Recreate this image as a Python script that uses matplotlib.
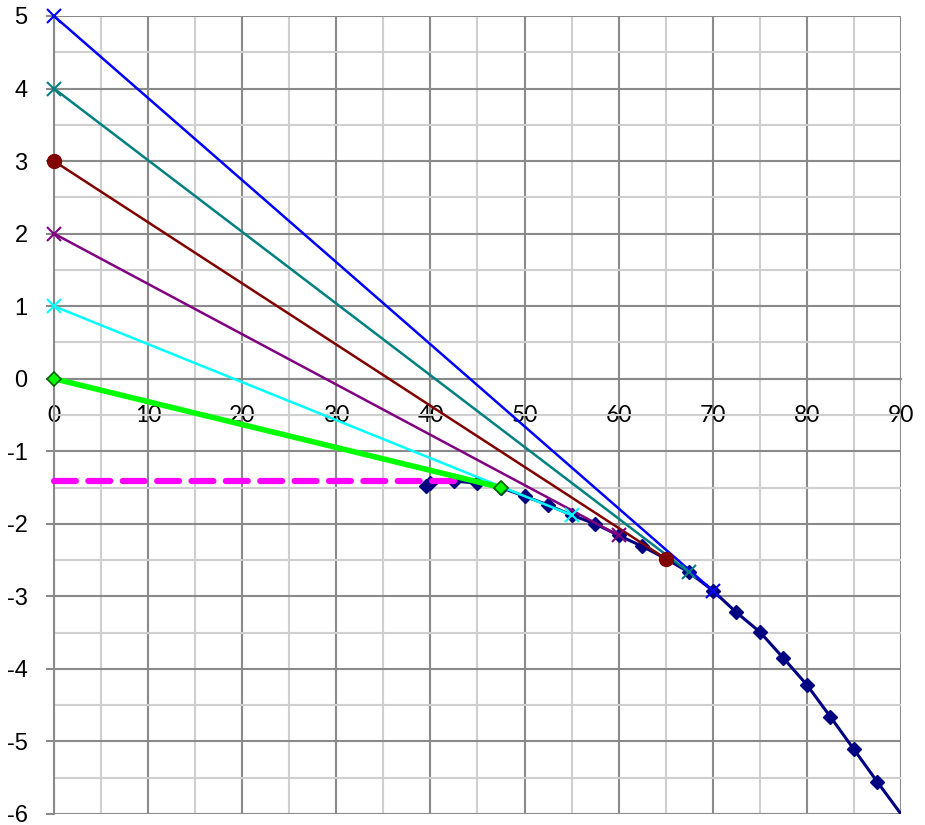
import matplotlib
matplotlib.use("Agg")
import matplotlib.pyplot as plt
from matplotlib.ticker import MultipleLocator

# curve points (navy, diamonds)
curve_x = [39.5, 40, 42.5, 45, 47.5, 50, 52.5, 55, 57.5, 60, 62.5, 65, 67.5,
           70, 72.5, 75, 77.5, 80, 82.5, 85, 87.5, 90]
curve_y = [-1.48, -1.44, -1.41, -1.44, -1.50, -1.62, -1.74, -1.88, -2.00, -2.16, -2.31, -2.48, -2.67,
           -2.92, -3.22, -3.49, -3.85, -4.22, -4.66, -5.11, -5.56, -6.00]

# straight lines from the y axis to the curve
line_start = [5, 4, 3, 2, 1, 0]
line_end_x = [70, 67.5, 65, 60, 55, 47.5]
line_end_y = [-2.92, -2.67, -2.48, -2.16, -1.88, -1.50]
line_colors = ["#0000FF", "#008080", "#800000", "#800080", "#00FFFF", "#00FF00"]
line_markers = ["x", "x", "o", "x", "x", "D"]

# magenta dashed level
level_x = [0, 42.5]
level_y = [-1.41, -1.41]

x_ticks = list(range(0, 91, 10))
y_ticks = list(range(-6, 6))

fig = plt.figure(figsize=(9.25, 8.25), dpi=100)
ax = fig.add_axes([54 / 925, 1 - 814 / 825, (901 - 54) / 925, (814 - 16) / 825])

ax.set_xlim(0, 90)
ax.set_ylim(-6, 5)
ax.xaxis.set_major_locator(MultipleLocator(10))
ax.xaxis.set_minor_locator(MultipleLocator(5))
ax.yaxis.set_major_locator(MultipleLocator(1))
ax.yaxis.set_minor_locator(MultipleLocator(0.5))
ax.grid(which="minor", color="#cfcfcf", linewidth=1.5, zorder=0)
ax.grid(which="major", color="#8a8a8a", linewidth=1.5, zorder=0)
ax.set_axisbelow(True)

for s in ["top", "right"]:
    ax.spines[s].set_visible(False)
ax.spines["left"].set_color("#8a8a8a")
ax.spines["left"].set_linewidth(1.5)
ax.spines["bottom"].set_position(("data", 0))
ax.spines["bottom"].set_color("#8a8a8a")
ax.spines["bottom"].set_linewidth(1.5)

ax.set_xticks(x_ticks)
ax.set_yticks(y_ticks)
ax.set_xticklabels([str(v) for v in x_ticks])
ax.set_yticklabels([str(v) for v in y_ticks])
ax.tick_params(axis="y", which="major", length=6, width=1.5, color="#8a8a8a", pad=13, labelsize=17)
ax.tick_params(axis="x", which="major", length=0, pad=19, labelsize=16.5)
ax.tick_params(which="minor", length=0)
for lbl in ax.get_xticklabels():
    lbl.set_fontfamily(["Lato", "DejaVu Sans"])
for lbl in ax.get_yticklabels():
    lbl.set_fontfamily(["Liberation Sans", "DejaVu Sans"])

# curve: no marker on the last point (it sits on the corner)
ax.plot(curve_x, curve_y, color="#000080", linewidth=2.2, marker="D", markersize=7.5,
        markevery=list(range(len(curve_x) - 1)), zorder=3)
ax.plot(level_x, level_y, color="#FF00FF", linewidth=4.5, linestyle=(0, (3.5, 2.0)),
        dash_capstyle="round", zorder=3, clip_on=False)

for k, ex, ey, c, m in zip(line_start, line_end_x, line_end_y, line_colors, line_markers):
    if m == "D":
        ax.plot([0, ex], [k, ey], color=c, linewidth=4, marker=m, markersize=7.5,
                markeredgecolor="#006400", markeredgewidth=1.2, zorder=4, clip_on=False)
    elif m == "o":
        ax.plot([0, ex], [k, ey], color=c, linewidth=1.8, marker=m, markersize=10,
                zorder=4, clip_on=False)
    else:
        ax.plot([0, ex], [k, ey], color=c, linewidth=1.8, marker=m, markersize=10,
                markeredgewidth=1.5, zorder=4, clip_on=False)

fig.savefig("out.png", dpi=100)
